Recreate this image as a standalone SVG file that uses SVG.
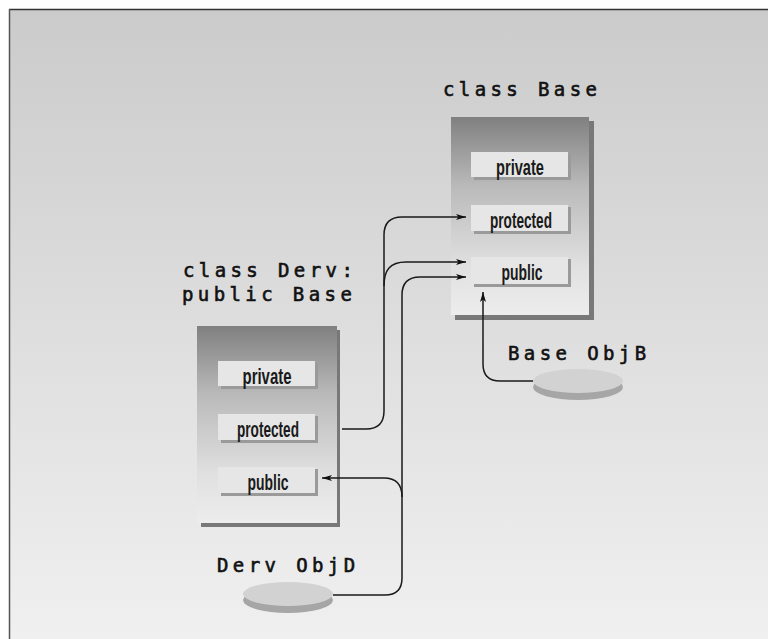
<svg xmlns="http://www.w3.org/2000/svg" width="768" height="639" viewBox="0 0 768 639">
<defs>
<linearGradient id="bg" x1="0" y1="0" x2="0" y2="1">
<stop offset="0" stop-color="#cbcbcb"/>
<stop offset="1" stop-color="#f0f0f0"/>
</linearGradient>
<linearGradient id="box" x1="0" y1="0" x2="0" y2="1">
<stop offset="0" stop-color="#808080"/>
<stop offset="0.35" stop-color="#bababa"/>
<stop offset="0.75" stop-color="#e0e0e0"/>
<stop offset="1" stop-color="#ededed"/>
</linearGradient>
<marker id="arr" viewBox="0 0 10 6" refX="10" refY="3" markerWidth="10" markerHeight="6" markerUnits="userSpaceOnUse" orient="auto">
<path d="M0,0 L10,3 L0,6 L2.5,3 Z" fill="#111"/>
</marker>
<style>
.title{font-family:"DejaVu Sans Mono","Liberation Mono",monospace;font-size:19px;letter-spacing:4.4px;fill:#111;stroke:#111;stroke-width:0.6px;}
.lbl{font-family:"Liberation Sans",Arial,sans-serif;font-weight:bold;font-size:22px;fill:#1a1a1a;text-anchor:middle;}
.slot{fill:#e6e6e6;}
.slotsh{fill:#9a9a9a;}
.boxsh{fill:#787878;}
.conn{fill:none;stroke:#1a1a1a;stroke-width:1.5;}
.disc{fill:#d2d2d2;}
.discsh{fill:#a6a6a6;}
</style>
</defs>
<rect x="0" y="0" width="768" height="639" fill="#ffffff"/>
<rect x="9" y="9" width="759" height="630" fill="url(#bg)"/>
<line x1="9" y1="9.5" x2="768" y2="9.5" stroke="#333" stroke-width="1.5"/>
<line x1="9.5" y1="9" x2="9.5" y2="639" stroke="#555" stroke-width="1.5"/>

<g id="base">
<text class="title" x="443" y="96">class Base</text>
<rect class="boxsh" x="455" y="121" width="139" height="199"/>
<rect x="451" y="117" width="138" height="198" fill="url(#box)"/>
<rect class="slotsh" x="474" y="154" width="97" height="26"/>
<rect class="slot" x="471" y="152" width="97" height="25"/>
<text class="lbl" x="520" y="175" textLength="48" lengthAdjust="spacingAndGlyphs">private</text>
<rect class="slotsh" x="474" y="207" width="97" height="27"/>
<rect class="slot" x="471" y="205" width="97" height="26"/>
<text class="lbl" x="521" y="228" textLength="62" lengthAdjust="spacingAndGlyphs">protected</text>
<rect class="slotsh" x="474" y="259" width="97" height="28"/>
<rect class="slot" x="471" y="257" width="97" height="27"/>
<text class="lbl" x="522" y="280" textLength="41" lengthAdjust="spacingAndGlyphs">public</text>
</g>

<g id="derv">
<text class="title" x="183" y="277">class Derv:</text>
<text class="title" x="182" y="301">public Base</text>
<rect class="boxsh" x="201" y="330" width="139" height="197"/>
<rect x="197" y="326" width="140" height="197" fill="url(#box)"/>
<rect class="slotsh" x="221" y="363" width="97" height="26"/>
<rect class="slot" x="218" y="361" width="97" height="25"/>
<text class="lbl" x="267" y="384" textLength="49" lengthAdjust="spacingAndGlyphs">private</text>
<rect class="slotsh" x="221" y="416" width="97" height="27"/>
<rect class="slot" x="218" y="414" width="97" height="26"/>
<text class="lbl" x="268" y="437" textLength="62" lengthAdjust="spacingAndGlyphs">protected</text>
<rect class="slotsh" x="221" y="469" width="97" height="27"/>
<rect class="slot" x="218" y="467" width="97" height="26"/>
<text class="lbl" x="268" y="490" textLength="41" lengthAdjust="spacingAndGlyphs">public</text>
</g>

<g id="objB">
<text class="title" x="508" y="360">Base ObjB</text>
<ellipse class="discsh" cx="578" cy="387" rx="45" ry="13"/>
<ellipse class="disc" cx="578" cy="381" rx="45" ry="12"/>
</g>

<g id="objD">
<text class="title" x="217" y="572">Derv ObjD</text>
<ellipse class="discsh" cx="288" cy="600" rx="45" ry="13"/>
<ellipse class="disc" cx="288" cy="594" rx="45" ry="12"/>
</g>

<g id="connectors">
<path class="conn" d="M342 429 L366 429 Q384 429 384 411 L384 235 Q384 217 402 217 L466 217" marker-end="url(#arr)"/>
<path class="conn" d="M384 286 C384 270 390 262 406 262 L466 262" marker-end="url(#arr)"/>
<path class="conn" d="M333 595 L385 595 Q402 595 402 578 L402 295 Q402 277 420 277 L466 277" marker-end="url(#arr)"/>
<path class="conn" d="M402 497 Q402 478 384 478 L322 478" marker-end="url(#arr)"/>
<path class="conn" d="M533 381 L500 381 Q483 381 483 364 L483 292" marker-end="url(#arr)"/>
</g>
</svg>
